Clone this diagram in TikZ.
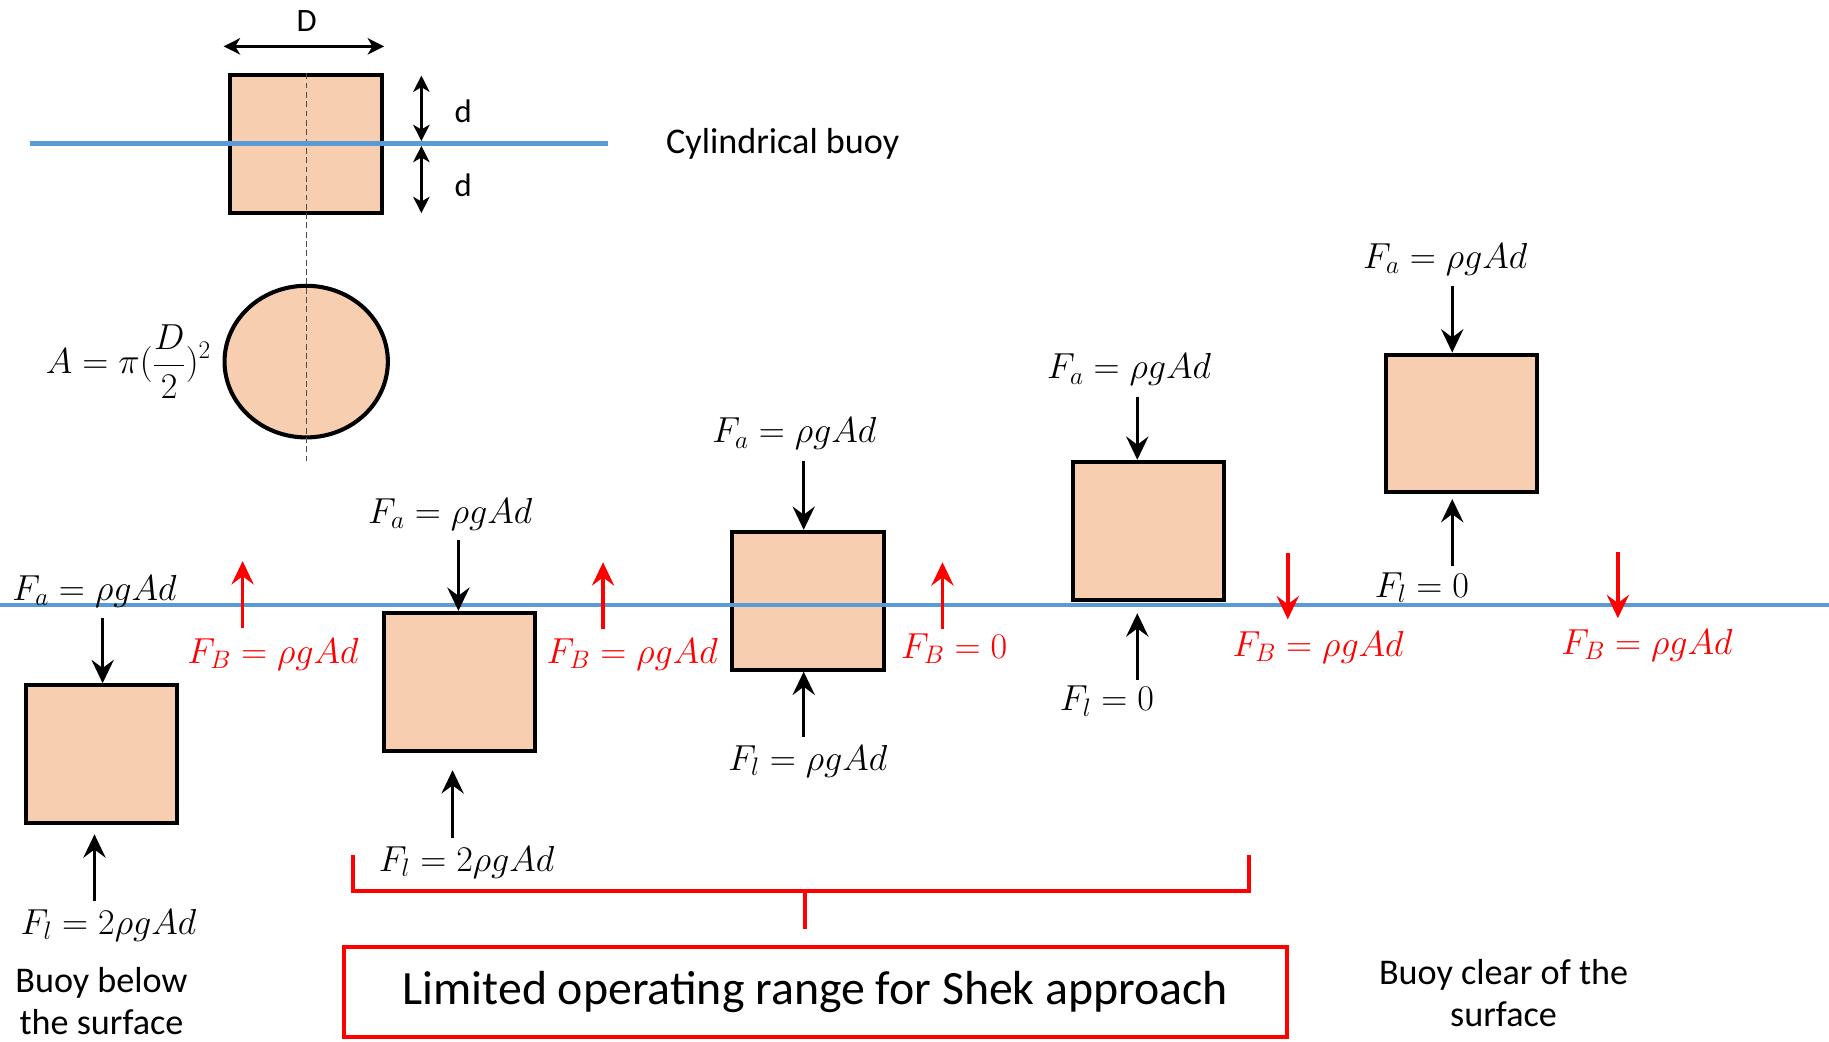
\RequirePackage{fix-cm}
\documentclass[tikz,border=0pt]{standalone}
\usepackage{fontspec}
\setmainfont{Carlito}
\usetikzlibrary{arrows.meta}

\definecolor{buoypeach}{RGB}{248,206,176}
\definecolor{seablue}{RGB}{91,155,213}

\tikzset{
  buoy/.style={draw=black, line width=3.5pt, fill=buoypeach, minimum width=130pt, minimum height=118pt},
  sea/.style={draw=seablue, line width=3.5pt},
  centreline/.style={draw=black!70, line width=1pt, dash pattern=on 5pt off 3pt},
  dimension/.style={draw=black, line width=2.5pt, {Stealth[length=14pt,width=14pt,inset=4pt]}-{Stealth[length=14pt,width=14pt,inset=4pt]}},
  force/.style={draw=black, line width=3pt, -{Stealth[length=20pt,width=19pt,inset=7pt]}},
  buoyancy/.style={draw=red, line width=3pt, -{Stealth[length=20pt,width=19pt,inset=7pt]}},
  bracket/.style={draw=red, line width=3.5pt},
  formula/.style={font=\fontsize{31}{36}\selectfont},
  redformula/.style={formula, text=red},
  caption/.style={font=\fontsize{31}{36}\selectfont, align=center},
  dimlabel/.style={font=\fontsize{28}{34}\selectfont},
  rangebox/.style={draw=red, line width=3.5pt, minimum width=808pt, minimum height=77pt, font=\fontsize{41}{48}\selectfont},
}

\begin{document}
\begin{tikzpicture}[x=1pt, y=-1pt, every node/.style={inner sep=0pt}]
  \useasboundingbox (0,0) rectangle (1568,893);

  % cylinder seen from the side and from above
  \node[buoy] (cyl) at (262.5,123.5) {};
  \draw[line width=3.5pt, fill=buoypeach] (262.5,310) ellipse [x radius=70, y radius=65];
  \coordinate (axisend) at (262.5,395);
  \draw[centreline] (cyl.north) -- (cyl.north |- axisend);
  \draw[sea] (26,123) -- (521,123);
  \draw[dimension] ([yshift=23pt,xshift=-4pt]cyl.north west) -- ([yshift=23pt]cyl.north east);
  \node[dimlabel] (Dlab) at (263,18) {D};
  \draw[dimension] ([xshift=32pt,yshift=-2pt]cyl.north east) -- ([xshift=32pt,yshift=2.5pt]cyl.east);
  \draw[dimension] ([xshift=32pt,yshift=-1.5pt]cyl.east) -- ([xshift=32pt,yshift=1.5pt]cyl.south east);
  \node[dimlabel] (dup) at (397,95) {d};
  \node[dimlabel] (ddown) at (397,159) {d};
  \node[caption] (title) at (671,123) {Cylindrical buoy};
  \node[formula] (area) at (110,310) {$A = \pi(\displaystyle\frac{D}{2})^2$};

  % buoys at five heights
  \node[buoy] (box1) at (87,646.5) {};
  \node[buoy] (box2) at (394,584.5) {};
  \node[buoy] (box3) at (692.5,515) {};
  \node[buoy] (box4) at (984.5,455) {};
  \node[buoy] (box5) at (1253,363) {};
  \draw[sea] (0,519) -- (1568,519);

  % buoy 1
  \node[formula] (fa1) at (81,507) {$F_a = \rho g A d$};
  \coordinate (fa1tail) at (88,530);
  \draw[force] (fa1tail) -- (fa1tail |- box1.north);
  \node[formula] (fl1) at (93,793) {$F_l = 2\rho g A d$};
  \coordinate (fl1tail) at (81,772);
  \draw[force, shorten >=8pt] (fl1tail) -- (fl1tail |- box1.south);

  % buoy 2
  \node[formula] (fa2) at (386,441) {$F_a = \rho g A d$};
  \coordinate (fa2tail) at (393,463);
  \draw[force] (fa2tail) -- (fa2tail |- box2.north);
  \node[formula] (fl2) at (400,739) {$F_l = 2\rho g A d$};
  \coordinate (fl2tail) at (388,718);
  \draw[force, shorten >=15pt] (fl2tail) -- (fl2tail |- box2.south);

  % buoy 3
  \node[formula] (fa3) at (681,372) {$F_a = \rho g A d$};
  \coordinate (fa3tail) at (689,395);
  \draw[force] (fa3tail) -- (fa3tail |- box3.north);
  \node[formula] (fl3) at (692.5,652.5) {$F_l = \rho g A d$};
  \coordinate (fl3tail) at (689,632);
  \draw[force] (fl3tail) -- (fl3tail |- box3.south);

  % buoy 4
  \node[formula] (fa4) at (968,317) {$F_a = \rho g A d$};
  \coordinate (fa4tail) at (975,340);
  \draw[force] (fa4tail) -- (fa4tail |- box4.north);
  \node[formula] (fl4) at (949,601) {$F_l = 0$};
  \coordinate (fl4tail) at (975,583);
  \draw[force, shorten >=10pt] (fl4tail) -- (fl4tail |- box4.south);

  % buoy 5
  \node[formula] (fa5) at (1239,222.5) {$F_a = \rho g A d$};
  \coordinate (fa5tail) at (1245,245);
  \draw[force] (fa5tail) -- (fa5tail |- box5.north);
  \node[formula] (fl5) at (1219,504) {$F_l = 0$};
  \coordinate (fl5tail) at (1245,485);
  \draw[force, shorten >=4pt] (fl5tail) -- (fl5tail |- box5.south);

  % net buoyancy between the buoys
  \coordinate (fb1tail) at (208,538);
  \coordinate (fb1tip) at (208,481);
  \draw[buoyancy] (fb1tail) -- (fb1tip);
  \node[redformula] (fb1) at (234,561) {$F_B = \rho g A d$};
  \coordinate (fb2tail) at (517,539);
  \coordinate (fb2tip) at (517,482);
  \draw[buoyancy] (fb2tail) -- (fb2tip);
  \node[redformula] (fb2) at (542,561) {$F_B = \rho g A d$};
  \coordinate (fb3tail) at (808,539);
  \coordinate (fb3tip) at (808,482);
  \draw[buoyancy] (fb3tail) -- (fb3tip);
  \node[redformula] (fb3) at (818,556) {$F_B = 0$};
  \coordinate (fb4tail) at (1104,474);
  \coordinate (fb4tip) at (1104,531);
  \draw[buoyancy] (fb4tail) -- (fb4tip);
  \node[redformula] (fb4) at (1130,555) {$F_B = \rho g A d$};
  \coordinate (fb5tail) at (1387,473);
  \coordinate (fb5tip) at (1387,530);
  \draw[buoyancy] (fb5tail) -- (fb5tip);
  \node[redformula] (fb5) at (1412,553) {$F_B = \rho g A d$};

  % operating range
  \draw[bracket] (303,733) -- (303,764) -- (1071,764) -- (1071,733);
  \node[rangebox] (range) at (699,850.5) {Limited operating range for Shek approach};
  \coordinate (stemtop) at (690,764);
  \draw[bracket] (stemtop) -- ([yshift=14pt]stemtop |- range.north);

  \node[caption] (below) at (87,858) {Buoy below\\the surface};
  \node[caption] (clear) at (1289,851.5) {Buoy clear of the\\surface};
\end{tikzpicture}
\end{document}
